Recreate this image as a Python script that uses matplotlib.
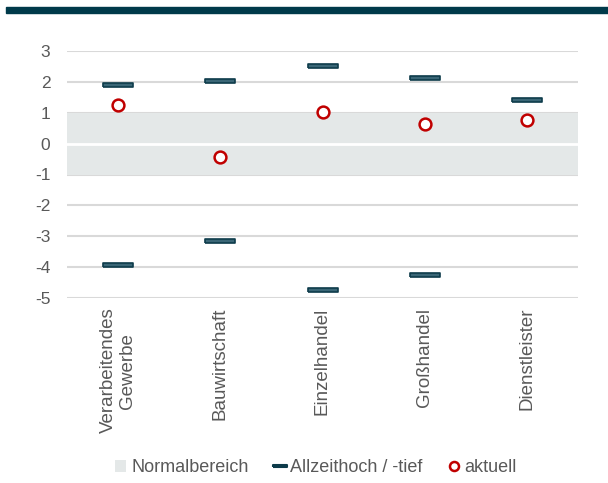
# Branchen: Allzeithoch/-tief, Normalbereich und aktueller Wert
import numpy as np
import matplotlib.pyplot as plt
from matplotlib.patches import Rectangle, Patch
from matplotlib.lines import Line2D

branchen = ["Verarbeitendes\nGewerbe", "Bauwirtschaft", "Einzelhandel", "Großhandel", "Dienstleister"]
hoch = [1.9, 2.03, 2.52, 2.12, 1.42]
tief = [-3.92, -3.15, -4.74, -4.25, np.nan]
aktuell = [1.25, -0.42, 1.03, 0.62, 0.75]
normal_unten = -1
normal_oben = 1
y_ticks = [-5, -4, -3, -2, -1, 0, 1, 2, 3]

plt.rcParams['font.family'] = ['Liberation Sans', 'DejaVu Sans']
grau = "#595959"
teal_dunkel = "#0d3b4a"
teal_hell = "#3a6676"
rot = "#c00000"

fig = plt.figure(figsize=(6.08, 4.83), dpi=100)
fig.patches.append(Rectangle((6/608, 1 - 13/483), 602/608, 6/483, transform=fig.transFigure,
                             color="#003a4a", zorder=5))

ax = fig.add_axes([67/608, 1 - 298/483, 511/608, 247/483])
x = np.arange(len(branchen))

ax.axhspan(normal_unten, normal_oben, color="#e4e8e8", zorder=1, lw=0)
ax.axhline(0, color="white", lw=2, zorder=1.5)
for y in y_ticks:
    if normal_unten < y < normal_oben:
        continue
    ax.axhline(y, color="#d9d9d9", lw=1.5, zorder=0.5)

# Rechteck-Marker fuer Hoch/Tief
strich = [(-1, -0.155), (1, -0.155), (1, 0.155), (-1, 0.155), (-1, -0.155)]
ax.plot(x, hoch, ls="none", marker=strich, ms=22, mfc=teal_hell, mec=teal_dunkel, mew=1.2, zorder=3)
ax.plot(x, tief, ls="none", marker=strich, ms=22, mfc=teal_hell, mec=teal_dunkel, mew=1.2, zorder=3)
ax.plot(x, aktuell, ls="none", marker="o", ms=8.5, mfc="white", mec=rot, mew=1.8, zorder=4)

ax.set_xlim(-0.5, len(branchen) - 0.5)
ax.set_ylim(-5, 3)
ax.set_yticks(y_ticks)
ax.set_yticklabels([str(v) for v in y_ticks])
ax.set_xticks(x)
ax.set_xticklabels(branchen, rotation=90, va="top", ha="center", multialignment="center")
ax.tick_params(axis="y", length=0, pad=12, labelsize=12.5, labelcolor=grau)
ax.tick_params(axis="x", length=0, pad=7, labelsize=13.5, labelcolor=grau)
for s in ax.spines.values():
    s.set_visible(False)
ax.patch.set_alpha(0)

handles = [
    Patch(facecolor="#e4e8e8", edgecolor="none"),
    Line2D([], [], ls="none", marker=strich, ms=10, mfc=teal_hell, mec=teal_dunkel, mew=1.5),
    Line2D([], [], ls="none", marker="o", ms=6.5, mfc="white", mec=rot, mew=1.8),
]
fig.legend(handles, ["Normalbereich", "Allzeithoch / -tief", "aktuell"], loc="center",
           bbox_to_anchor=(316/608, 1 - 468/483), ncol=3, frameon=False, fontsize=13,
           labelcolor=grau, handlelength=0.6, handleheight=0.6, handletextpad=0.3, columnspacing=1.4)

plt.savefig("out.png", dpi=100)
plt.close()
